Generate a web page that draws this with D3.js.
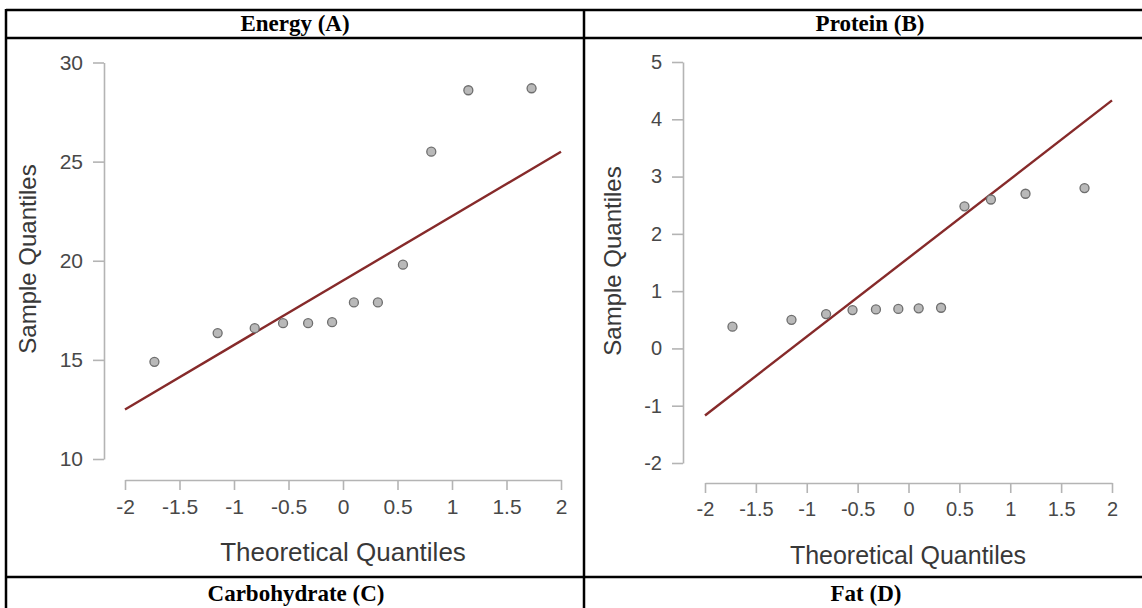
<!DOCTYPE html>
<html>
<head>
<meta charset="utf-8">
<script src="https://cdn.jsdelivr.net/npm/d3@7"></script>
<style>
  html, body { margin: 0; padding: 0; background: #fff; }
  svg { display: block; }
</style>
</head>
<body>
<svg id="chart" width="1142" height="608"></svg>
<script>
// ---------------- data ----------------
const panelTitles = ["Energy (A)", "Protein (B)", "Carbohydrate (C)", "Fat (D)"];
const theoreticalQuantiles = [-1.73, -1.15, -0.81, -0.55, -0.32, -0.10, 0.10, 0.32, 0.55, 0.81, 1.15, 1.73];
const energySample  = [14.9, 16.35, 16.6, 16.85, 16.85, 16.9, 17.9, 17.9, 19.8, 25.5, 28.6, 28.7];
const proteinSample = [0.38, 0.50, 0.60, 0.67, 0.68, 0.69, 0.70, 0.71, 2.48, 2.60, 2.70, 2.80];
const lineEnds = [-2, 2];
const energyLine  = [12.5, 25.5];
const proteinLine = [-1.17, 4.33];
const xTicks = [-2, -1.5, -1, -0.5, 0, 0.5, 1, 1.5, 2];
const energyYTicks  = [10, 15, 20, 25, 30];
const proteinYTicks = [-2, -1, 0, 1, 2, 3, 4, 5];
const xTitle = "Theoretical Quantiles";
const yTitle = "Sample Quantiles";

// ---------------- layout ----------------
const svg = d3.select("#chart");
const gridColor = "#000";
const fmt = d => String(d);   // plain hyphen minus, as in the reference

// table lines
const tbl = svg.append("g").attr("stroke", gridColor).attr("stroke-width", 2.5);
tbl.append("line").attr("x1", 6).attr("x2", 1142).attr("y1", 10).attr("y2", 10);
tbl.append("line").attr("x1", 6).attr("x2", 1142).attr("y1", 38).attr("y2", 38);
tbl.append("line").attr("x1", 6).attr("x2", 1142).attr("y1", 577).attr("y2", 577);
tbl.append("line").attr("x1", 6).attr("x2", 6).attr("y1", 9).attr("y2", 608);
tbl.append("line").attr("x1", 584).attr("x2", 584).attr("y1", 9).attr("y2", 608);

const headerFont = "'Liberation Serif', 'Times New Roman', serif";
const headPos = [[295, 31], [870, 31], [296, 601], [866, 601]];
panelTitles.forEach((t, i) => {
  svg.append("text")
    .attr("x", headPos[i][0]).attr("y", headPos[i][1])
    .attr("text-anchor", "middle")
    .attr("font-family", headerFont).attr("font-weight", "bold")
    .attr("font-size", 23).attr("fill", "#000")
    .text(t);
});

const panels = [
  { sample: energySample, line: energyLine, yTicks: energyYTicks, yDomain: [10, 30],
    yAxisX: 104, yRange: [459, 62.5], xRange: [125, 561], xAxisY: 480,
    tickFont: 21, xTitleFont: 26, yTitleX: 27, yTitleY: 259, xTitleY: 561, xTitleX: 343 },
  { sample: proteinSample, line: proteinLine, yTicks: proteinYTicks, yDomain: [-2, 5],
    yAxisX: 683, yRange: [463, 62], xRange: [705, 1112], xAxisY: 483,
    tickFont: 20, xTitleFont: 25, yTitleX: 612, yTitleY: 261, xTitleY: 564, xTitleX: 908 }
];

const axisColor = "#b4b4b4";
const labelColor = "#484848";
const sansFont = "'Liberation Sans', Arial, Helvetica, sans-serif";

panels.forEach(p => {
  const x = d3.scaleLinear().domain([-2, 2]).range(p.xRange);
  const y = d3.scaleLinear().domain(p.yDomain).range(p.yRange);
  const g = svg.append("g");

  // y axis
  const ya = g.append("g").attr("transform", `translate(${p.yAxisX},0)`)
    .call(d3.axisLeft(y).tickValues(p.yTicks).tickSizeInner(11).tickSizeOuter(0).tickPadding(10).tickFormat(fmt));
  // x axis
  const xa = g.append("g").attr("transform", `translate(0,${p.xAxisY})`)
    .call(d3.axisBottom(x).tickValues(xTicks).tickSizeInner(10).tickSizeOuter(0).tickPadding(9).tickFormat(fmt));

  [ya, xa].forEach(a => {
    a.select(".domain").attr("stroke", axisColor).attr("stroke-width", 1.6);
    a.selectAll(".tick line").attr("stroke", axisColor).attr("stroke-width", 1.6);
    a.selectAll(".tick text").attr("fill", labelColor)
      .attr("font-family", sansFont).attr("font-size", p.tickFont);
  });

  // axis titles
  g.append("text").attr("x", p.xTitleX).attr("y", p.xTitleY)
    .attr("text-anchor", "middle").attr("font-family", sansFont)
    .attr("font-size", p.xTitleFont).attr("fill", "#383838").text(xTitle);
  g.append("text")
    .attr("transform", `translate(${p.yTitleX + 9},${p.yTitleY}) rotate(-90)`)
    .attr("text-anchor", "middle").attr("font-family", sansFont)
    .attr("font-size", 24).attr("fill", "#383838").text(yTitle);

  // reference line
  g.append("line")
    .attr("x1", x(lineEnds[0])).attr("y1", y(p.line[0]))
    .attr("x2", x(lineEnds[1])).attr("y2", y(p.line[1]))
    .attr("stroke", "#862a2a").attr("stroke-width", 2.4);

  // points
  g.selectAll("circle").data(p.sample).join("circle")
    .attr("cx", (d, i) => x(theoreticalQuantiles[i]))
    .attr("cy", d => y(d))
    .attr("r", 4.5)
    .attr("fill", "#b9b9b9")
    .attr("stroke", "#6e6e6e")
    .attr("stroke-width", 1.3);
});
</script>
</body>
</html>
